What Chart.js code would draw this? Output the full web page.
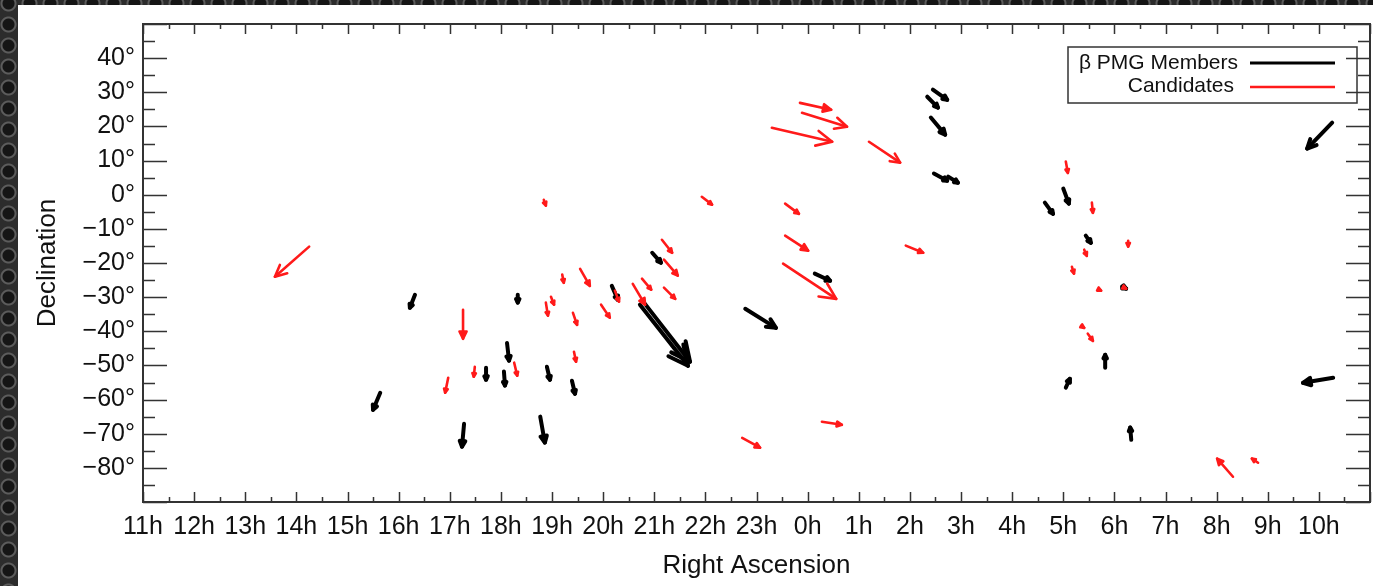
<!DOCTYPE html>
<html>
<head>
<meta charset="utf-8">
<title>Beta Pic moving group proper motions</title>
<script src="https://cdn.jsdelivr.net/npm/chart.js@4.4.1/dist/chart.umd.min.js"></script>
<style>
html, body { margin: 0; padding: 0; }
body {
    width: 1373px; height: 586px; overflow: hidden;
    background-color: #2c2c2c;
    background-image: radial-gradient(circle, #151515 0 5.5px, #5c5c5c 6.5px 7.5px, rgba(0,0,0,0) 8.5px);
    background-size: 21px 21px;
    background-position: -2px -7px;
}
#wrap { position: absolute; left: 18px; top: 5px; width: 1355px; height: 581px; background: #fff; }
#pmChart { filter: blur(0.45px); }
</style>
</head>
<body>
<div id="wrap"><canvas id="pmChart"></canvas></div>
<script>
// axis ranges (RA in hours, plotted starting at 11h and wrapping round)
const raStart = 11;
const decMin = -90, decMax = 50;

// beta PMG members: arrow tail (from) and head (to)
const memberRaFrom  = [15.64, 16.32, 17.28, 17.71, 18.06, 18.12, 18.33, 18.90, 18.77, 19.39, 20.17, 20.96, 20.72, 20.80, 22.78, 0.14, 2.45, 2.34, 2.41, 2.47, 2.75, 4.64, 5.00, 5.44, 6.15, 5.82, 5.05, 6.33, 10.26, 10.28];
const memberDecFrom = [-58.0, -29.3, -67.1, -50.7, -51.8, -43.4, -29.3, -50.4, -65.0, -54.5, -26.7, -17.0, -32.2, -31.6, -33.4, -23.1, 30.8, 28.7, 22.6, 6.2, 5.3, -2.3, 1.8, -12.0, -26.9, -50.7, -56.5, -71.8, 21.1, -53.6];
const memberRaTo    = [15.50, 16.22, 17.24, 17.71, 18.08, 18.16, 18.33, 18.96, 18.86, 19.45, 20.29, 21.13, 21.66, 21.70, 23.38, 0.44, 2.73, 2.55, 2.69, 2.73, 2.94, 4.80, 5.11, 5.54, 6.23, 5.82, 5.13, 6.31, 9.77, 9.69];
const memberDecTo   = [-63.0, -33.1, -73.8, -54.2, -55.9, -48.6, -31.6, -54.2, -72.6, -58.3, -30.8, -19.9, -50.1, -48.9, -39.0, -25.2, 27.8, 25.5, 17.6, 4.1, 3.5, -5.6, -2.6, -14.1, -27.5, -46.9, -53.9, -68.2, 13.5, -55.1];

// candidates
const candRaFrom  = [14.25, 17.26, 16.97, 17.49, 18.26, 18.84, 18.88, 18.98, 19.20, 19.55, 19.41, 19.43, 19.96, 20.23, 20.58, 20.76, 21.15, 21.19, 21.19, 21.93, 22.72, 23.56, 23.56, 23.52, 23.85, 23.89, 23.30, 1.20, 0.28, 1.92, 5.05, 5.56, 6.27, 5.41, 5.17, 5.70, 5.35, 5.48, 8.32, 8.81, 6.19];
const candDecFrom = [-15.2, -33.7, -53.6, -50.4, -49.2, -1.5, -31.6, -29.9, -23.4, -21.7, -34.6, -46.0, -32.2, -28.1, -26.1, -24.6, -13.2, -19.0, -27.2, -0.6, -71.2, -2.6, -12.0, -20.2, 26.9, 24.0, 19.6, 15.5, -66.5, -14.9, 9.7, -2.3, -13.5, -16.1, -21.1, -27.8, -38.4, -40.7, -82.6, -78.5, -27.2];
const candRaTo    = [13.58, 17.26, 16.91, 17.47, 18.32, 18.88, 18.92, 19.04, 19.23, 19.74, 19.49, 19.47, 20.13, 20.31, 20.82, 20.94, 21.35, 21.46, 21.41, 22.13, 23.07, 23.83, 0.01, 0.56, 0.46, 0.77, 0.48, 1.81, 0.67, 2.26, 5.09, 5.58, 6.27, 5.46, 5.21, 5.74, 5.41, 5.58, 8.01, 8.69, 6.23];
const candDecTo   = [-24.0, -42.2, -58.0, -53.3, -53.0, -3.2, -35.4, -32.2, -25.8, -26.7, -38.1, -48.9, -36.0, -31.3, -32.2, -27.8, -17.0, -23.7, -30.5, -2.9, -74.1, -5.6, -16.4, -30.5, 24.9, 19.9, 15.5, 9.4, -67.4, -17.0, 6.4, -5.3, -15.2, -17.9, -23.1, -28.1, -39.0, -42.8, -77.3, -77.3, -27.5];

const legendLabels = ["\u03b2 PMG Members", "Candidates"];

// hours after 11h, so the axis runs 11h ... 10h
function raPos(ra) {
    return ((ra - raStart) % 24 + 24) % 24;
}

// tail, head, gap, tail, head, gap ...
function segments(raFrom, decFrom, raTo, decTo) {
    const pts = [];
    for (let i = 0; i < raFrom.length; i++) {
        pts.push({x: raPos(raFrom[i]), y: decFrom[i]});
        pts.push({x: raPos(raTo[i]), y: decTo[i]});
        pts.push({x: null, y: null});
    }
    return pts;
}

const fontFam = "'Liberation Sans', Arial, Helvetica, sans-serif";

const arrowHeads = {
    id: 'arrowHeads',
    afterDatasetDraw(chart, args) {
        const meta = args.meta;
        const ds = chart.data.datasets[args.index];
        const ctx = chart.ctx;
        ctx.save();
        ctx.strokeStyle = ds.borderColor;
        ctx.fillStyle = ds.borderColor;
        ctx.lineWidth = ds.borderWidth;
        ctx.lineCap = 'round';
        ctx.lineJoin = 'round';
        for (let i = 0; i + 1 < meta.data.length; i += 3) {
            const a = meta.data[i], b = meta.data[i + 1];
            const dx = b.x - a.x, dy = b.y - a.y;
            const len = Math.hypot(dx, dy);
            if (!len) continue;
            const h = Math.max(4, len * 0.28);
            const ang = Math.atan2(dy, dx);
            ctx.beginPath();
            ctx.moveTo(b.x - h * Math.cos(ang - 0.45), b.y - h * Math.sin(ang - 0.45));
            ctx.lineTo(b.x, b.y);
            ctx.lineTo(b.x - h * Math.cos(ang + 0.45), b.y - h * Math.sin(ang + 0.45));
            if (h < 9) {
                // short arrows: the thick strokes close the head up
                ctx.closePath();
                ctx.fill();
            }
            ctx.stroke();
        }
        ctx.restore();
    }
};

// box, inward ticks and legend
const frameTicks = {
    id: 'frameTicks',
    afterDraw(chart) {
        const ctx = chart.ctx;
        const {left, right, top, bottom} = chart.chartArea;
        const x = chart.scales.x, y = chart.scales.y;
        ctx.save();
        ctx.strokeStyle = '#333';
        ctx.lineWidth = 1.5;
        ctx.beginPath();
        for (let v = 0; v <= 24; v += 0.5) {
            const px = Math.round(x.getPixelForValue(v)) + 0.5;
            const L = v % 1 === 0 ? 10 : 5;
            ctx.moveTo(px, bottom); ctx.lineTo(px, bottom - L);
            ctx.moveTo(px, top); ctx.lineTo(px, top + L);
        }
        for (let v = decMin; v <= decMax; v += 5) {
            const py = Math.round(y.getPixelForValue(v)) + 0.5;
            const L = v % 10 === 0 ? 24 : 12;
            ctx.moveTo(left, py); ctx.lineTo(left + L, py);
            ctx.moveTo(right, py); ctx.lineTo(right - L, py);
        }
        ctx.stroke();
        ctx.lineWidth = 2;
        ctx.strokeRect(left, top, right - left, bottom - top);

        // legend
        ctx.lineWidth = 1.5;
        ctx.strokeRect(right - 302, top + 23, 289, 56);
        ctx.font = '21px ' + fontFam;
        ctx.fillStyle = '#111';
        ctx.textAlign = 'right';
        ctx.textBaseline = 'middle';
        ctx.fillText(legendLabels[0], right - 132, top + 39);
        ctx.fillText(legendLabels[1], right - 136, top + 62);
        ctx.lineCap = 'butt';
        ctx.lineWidth = 3;
        ctx.strokeStyle = '#000';
        ctx.beginPath(); ctx.moveTo(right - 120, top + 39); ctx.lineTo(right - 35, top + 39); ctx.stroke();
        ctx.lineWidth = 2.5;
        ctx.strokeStyle = '#ff1a1a';
        ctx.beginPath(); ctx.moveTo(right - 120, top + 63); ctx.lineTo(right - 35, top + 63); ctx.stroke();
        ctx.restore();
    }
};

new Chart(document.getElementById("pmChart"), {
    type: "scatter",
    data: {
        datasets: [
            {
                label: legendLabels[1],
                data: segments(candRaFrom, candDecFrom, candRaTo, candDecTo),
                showLine: true,
                spanGaps: false,
                borderColor: "#ff1a1a",
                borderWidth: 2.6,
                borderCapStyle: "round",
                pointRadius: 0
            },
            {
                label: legendLabels[0],
                data: segments(memberRaFrom, memberDecFrom, memberRaTo, memberDecTo),
                showLine: true,
                spanGaps: false,
                borderColor: "#000",
                borderWidth: 4,
                borderCapStyle: "round",
                pointRadius: 0
            }
        ]
    },
    options: {
        responsive: true,
        maintainAspectRatio: false,
        animation: false,
        events: [],
        layout: { padding: { top: 19, right: 3, bottom: 0, left: 0 } },
        plugins: {
            legend: { display: false },
            tooltip: { enabled: false }
        },
        scales: {
            x: {
                type: "linear",
                min: 0,
                max: 24,
                grid: { display: false, drawTicks: false },
                border: { display: false },
                afterFit: s => { s.height = 84; s.paddingLeft = 0; s.paddingRight = 0; },
                ticks: {
                    stepSize: 1,
                    autoSkip: false,
                    maxRotation: 0,
                    padding: 10,
                    color: "#111",
                    font: { size: 25, family: fontFam },
                    callback: v => v === 24 ? "" : ((v + raStart) % 24) + "h"
                },
                title: {
                    display: true,
                    text: "Right Ascension",
                    color: "#111",
                    font: { size: 26, family: fontFam },
                    padding: { top: 0, bottom: 5 }
                }
            },
            y: {
                min: decMin,
                max: decMax,
                grid: { display: false, drawTicks: false },
                border: { display: false },
                afterFit: s => { s.width = 125; s.paddingTop = 0; s.paddingBottom = 0; },
                ticks: {
                    stepSize: 10,
                    padding: 8,
                    color: "#111",
                    font: { size: 25, family: fontFam },
                    callback: v => (v === decMin || v === decMax) ? "" : (v < 0 ? "\u2212" + (-v) : v) + "\u00b0"
                },
                title: {
                    display: true,
                    text: "Declination",
                    color: "#111",
                    font: { size: 26, family: fontFam },
                    padding: { top: 14, bottom: 0 }
                }
            }
        }
    },
    plugins: [arrowHeads, frameTicks]
});
</script>
</body>
</html>
